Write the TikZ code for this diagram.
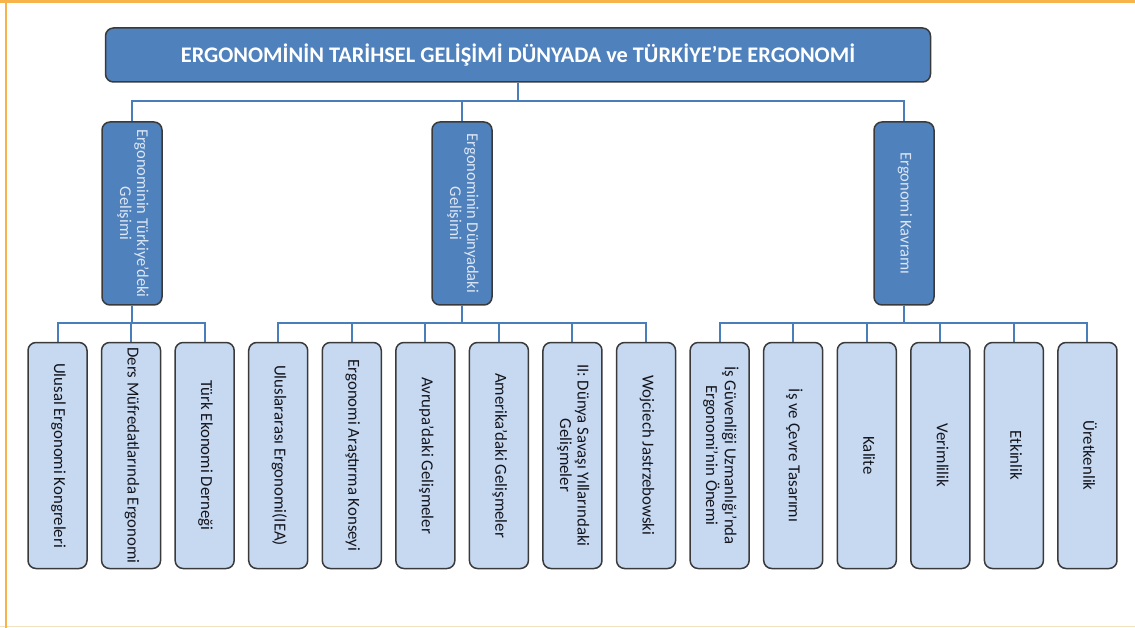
\documentclass[tikz,border=0pt]{standalone}
\usepackage{fontspec}
\setmainfont{Carlito}
\usepackage{graphicx}
\usetikzlibrary{backgrounds,calc}
\definecolor{darkfill}{HTML}{4F81BD}
\definecolor{leaffill}{HTML}{C6D9F1}
\definecolor{boxline}{HTML}{3A3A3A}
\definecolor{connline}{HTML}{4A7EBB}
\definecolor{midtext}{HTML}{DCE6F4}
\definecolor{leaftext}{HTML}{14141C}
\definecolor{frameorange}{HTML}{F6B44A}
\definecolor{framelight}{HTML}{F3E3BE}
\tikzset{
  topbox/.style={draw=boxline, line width=1.5pt, fill=darkfill, rounded corners=8pt,
    minimum width=825pt, minimum height=54pt, inner sep=0pt,
    text=white, font=\fontsize{22.3}{24}\selectfont\bfseries},
  midbox/.style={draw=boxline, line width=1.5pt, fill=darkfill, rounded corners=8pt,
    minimum width=60pt, minimum height=183pt, inner sep=0pt,
    text=midtext, font=\fontsize{16.5}{17}\selectfont},
  leafbox/.style={draw=boxline, line width=1.5pt, fill=leaffill, rounded corners=8pt,
    minimum width=59pt, minimum height=226pt, inner sep=0pt,
    text=leaftext, font=\fontsize{16.8}{17.5}\selectfont},
  conn/.style={draw=connline, line width=2pt}
}
\newcommand{\vtxt}[1]{\rotatebox{-90}{\begin{tabular}{@{}c@{}}#1\end{tabular}}}
\begin{document}
\begin{tikzpicture}[x=1pt,y=-1pt]
\useasboundingbox (0,0) rectangle (1135,628);
% frame
\draw[framelight, line width=1.5pt] (0,626.5) -- (1135,626.5);
\draw[frameorange, line width=3pt] (0,1.2) -- (1135,1.2);
\draw[frameorange, line width=2.5pt] (6,0) -- (6,628);

\node[topbox] (top) at (518,55) {ERGONOMİNİN TARİHSEL GELİŞİMİ DÜNYADA ve TÜRKİYE’DE ERGONOMİ};

\node[midbox] (m1) at (132,213.5) {\vtxt{Ergonominin Türkiye’deki\\Gelişimi}};
\node[midbox] (m2) at (462,213.5) {\vtxt{Ergonominin Dünyadaki\\Gelişimi}};
\node[midbox] (m3) at (904,213.5) {\vtxt{Ergonomi Kavramı}};

\node[leafbox] (l0) at (57.5,455.5) {\vtxt{Ulusal Ergonomi Kongreleri}};
\node[leafbox] (l1) at (131.07,455.5) {\vtxt{Ders Müfredatlarında Ergonomi}};
\node[leafbox] (l2) at (204.64,455.5) {\vtxt{Türk Ekonomi Derneği}};
\node[leafbox] (l3) at (278.21,455.5) {\vtxt{Uluslararası Ergonomi(IEA)}};
\node[leafbox] (l4) at (351.78,455.5) {\vtxt{Ergonomi Araştırma Konseyi}};
\node[leafbox] (l5) at (425.35,455.5) {\vtxt{Avrupa’daki Gelişmeler}};
\node[leafbox] (l6) at (498.92,455.5) {\vtxt{Amerika’daki Gelişmeler}};
\node[leafbox] (l7) at (572.49,455.5) {\vtxt{II: Dünya Savaşı Yıllarındaki\\Gelişmeler}};
\node[leafbox] (l8) at (646.06,455.5) {\vtxt{Wojciech Jastrzebowski}};
\node[leafbox] (l9) at (719.63,455.5) {\vtxt{İş Güvenliği Uzmanlığı’nda\\Ergonomi’nin Önemi}};
\node[leafbox] (l10) at (793.2,455.5) {\vtxt{İş ve Çevre Tasarımı}};
\node[leafbox] (l11) at (866.77,455.5) {\vtxt{Kalite}};
\node[leafbox] (l12) at (940.34,455.5) {\vtxt{Verimlilik}};
\node[leafbox] (l13) at (1013.91,455.5) {\vtxt{Etkinlik}};
\node[leafbox] (l14) at (1087.48,455.5) {\vtxt{Üretkenlik}};

\begin{scope}[on background layer]
\coordinate (hub) at ($(top.south)+(0,18)$);
\draw[conn] (top.south) -- (hub);
\foreach \m in {m1,m2,m3} \draw[conn] (hub) -| (\m.north);
\foreach \l in {l0,l1,l2} \draw[conn] (m1.south) -- ++(0,17) -| (\l.north);
\foreach \l in {l3,l4,l5,l6,l7,l8} \draw[conn] (m2.south) -- ++(0,17) -| (\l.north);
\foreach \l in {l9,l10,l11,l12,l13,l14} \draw[conn] (m3.south) -- ++(0,17) -| (\l.north);
\end{scope}
\end{tikzpicture}
\end{document}
